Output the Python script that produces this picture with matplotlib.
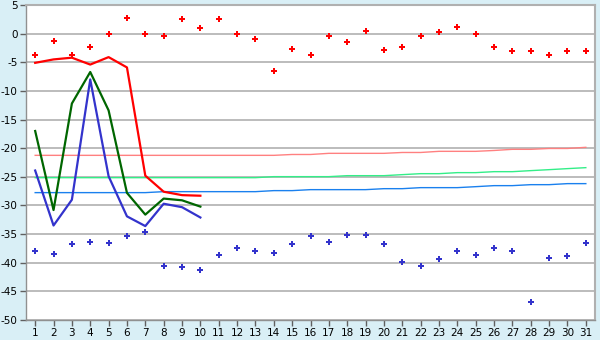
import matplotlib
matplotlib.use("Agg")
import matplotlib.pyplot as plt

days = list(range(1, 32))
day_labels = [str(d) for d in days]

red_points = [-3.8, -1.2, -3.8, -2.4, -0.1, 2.8, -0.1, -0.35, 2.6, 1.0,
              2.6, 0.0, -0.9, -6.5, -2.6, -3.7, -0.35, -1.4, 0.5, -2.8,
              -2.4, -0.35, 0.35, 1.2, 0.0, -2.4, -3.0, -3.1, -3.8, -3.1, -3.0]
blue_points = [-38.0, -38.4, -36.65, -36.3, -36.5, -35.4, -34.7, -40.5, -40.8, -41.3,
               -38.6, -37.35, -37.9, -38.3, -36.65, -35.4, -36.3, -35.1, -35.1, -36.8,
               -39.8, -40.5, -39.4, -37.9, -38.7, -37.35, -38.0, -46.9, -39.1, -38.9, -36.5]

line_days = list(range(1, 11))
red_line = [-5.1, -4.5, -4.2, -5.4, -4.1, -5.9, -24.8, -27.6, -28.2, -28.3]
green_line = [-17.0, -30.8, -12.2, -6.7, -13.4, -27.8, -31.6, -28.8, -29.1, -30.2]
blue_line = [-23.9, -33.5, -29.0, -8.0, -24.9, -31.9, -33.6, -29.7, -30.3, -32.1]

pink_norm = [-21.25] * 14 + [-21.1] * 2 + [-20.9] * 4 + [-20.75] * 2 + [-20.55] * 3 + \
            [-20.4] + [-20.2] * 2 + [-20.05] * 2 + [-19.85]
green_norm = [-25.15] * 13 + [-24.97] * 4 + [-24.8] * 3 + [-24.62] + [-24.45] * 2 + \
             [-24.27] * 2 + [-24.1] * 2 + [-23.92] + [-23.75] + [-23.57] + [-23.4]
blue_norm = [-27.76] * 7 + [-27.59] * 6 + [-27.41] * 2 + [-27.24] * 4 + [-27.07] * 2 + \
            [-26.89] * 3 + [-26.72] + [-26.54] * 2 + [-26.37] * 2 + [-26.19] * 2

yticks = list(range(-50, 6, 5))

bg = "#d9eff6"
fig = plt.figure(figsize=(6, 3.4), dpi=100, facecolor=bg)
ax = fig.add_axes([26 / 600, 20 / 340, 569 / 600, 315 / 340])
ax.set_facecolor("white")

ax.set_xlim(0.5, 31.5)
ax.set_ylim(-50, 5)
ax.set_yticks(yticks)
ax.set_yticklabels([str(v).replace("-", "\u2212") if False else str(v) for v in yticks])
ax.set_xticks(days)
ax.set_xticklabels(day_labels)
ax.grid(axis="y", color="#b0b0b0", lw=1.2)
ax.set_axisbelow(True)

ax.plot(days, pink_norm, color="#ff8080", lw=1.0)
ax.plot(days, green_norm, color="#33ee88", lw=1.0)
ax.plot(days, blue_norm, color="#1a80ee", lw=1.0)

ax.plot(line_days, red_line, color="#ff0000", lw=1.6)
ax.plot(line_days, green_line, color="#006600", lw=1.6)
ax.plot(line_days, blue_line, color="#3333cc", lw=1.6)

ax.plot(days, red_points, linestyle="none", marker="P", color="#ff0000", ms=4.5, mew=0)
ax.plot(days, blue_points, linestyle="none", marker="P", color="#3333cc", ms=4.5, mew=0)

for s in ["left", "bottom"]:
    ax.spines[s].set_color("#909090")
    ax.spines[s].set_linewidth(1.0)
for s in ["top", "right"]:
    ax.spines[s].set_color("#b0b0b0")
    ax.spines[s].set_linewidth(1.5)

ax.tick_params(axis="both", colors="#606060", labelcolor="black", labelsize=7.5,
               length=4, width=1, direction="out", pad=2)

fig.savefig("out.png", dpi=100, facecolor=bg)
